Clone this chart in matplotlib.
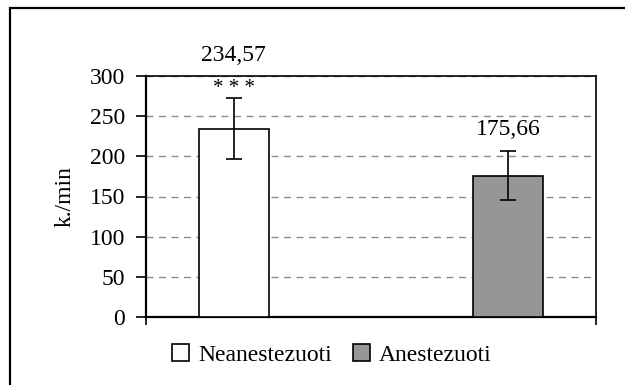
# Diagrama: k./min (neanestezuoti vs anestezuoti)
import matplotlib
matplotlib.use("Agg")
import matplotlib.pyplot as plt
from matplotlib.patches import Rectangle

# Duomenys
grupes = ["Neanestezuoti", "Anestezuoti"]
vidurkiai = [234.57, 175.66]
nuokrypiai = [38.5, 30.5]
etiketes = ["234,57", "175,66"]
spalvos = ["white", "#969696"]
y_ticks = [0, 50, 100, 150, 200, 250, 300]

plt.rcParams["font.family"] = ["Liberation Serif", "DejaVu Serif"]

fig = plt.figure(figsize=(6.25, 3.85), dpi=100)
W, H = 625, 385
ax = fig.add_axes([146 / W, 1 - 317 / H, 450 / W, 241 / H])

# Išorinis rėmelis (tęsiasi už paveikslo ribų)
fig.patches.append(Rectangle((10 / W, -0.1), 1.2, 1 - 8 / H + 0.1,
                             transform=fig.transFigure, fill=False,
                             edgecolor="black", linewidth=1.6, zorder=0))

x_pos = [0.195, 0.805]
bars = []
for i in range(len(grupes)):
    b = ax.bar(x_pos[i], vidurkiai[i], width=0.156, color=spalvos[i],
               edgecolor="black", linewidth=1.2, label=grupes[i], zorder=3)
    bars.append(b)
    ax.errorbar(x_pos[i], vidurkiai[i], yerr=nuokrypiai[i], fmt="none",
                ecolor="black", elinewidth=1.2, capsize=6, capthick=1.2, zorder=4)

# Reikšmių etiketės
ax.text(x_pos[0], 326, etiketes[0], ha="center", va="center", fontsize=17,
        clip_on=False)
ax.text(x_pos[0], 284, "* * *", ha="center", va="center", fontsize=15)
ax.text(x_pos[1], 233, etiketes[1], ha="center", va="center", fontsize=17)

ax.set_xlim(0, 1)
ax.set_ylim(0, 300)
ax.set_yticks(y_ticks)
ax.set_xticks([0, 1])
ax.set_xticklabels([])
ax.tick_params(axis="y", direction="out", length=7, width=1.2, labelsize=17, pad=8)
ax.tick_params(axis="x", direction="out", length=6, width=1.2)
ax.yaxis.grid(True, color="#8c8c8c", linestyle=(0, (5, 4)), linewidth=1.0, zorder=0)
ax.set_axisbelow(True)

for s in ["left", "bottom"]:
    ax.spines[s].set_linewidth(1.6)
for s in ["top", "right"]:
    ax.spines[s].set_linewidth(1.2)

ax.set_ylabel("k./min", fontsize=17, labelpad=10)

fig.legend(handles=[b[0] for b in bars], labels=grupes, loc="center",
           bbox_to_anchor=(332 / W, 1 - 355 / H), ncol=2, frameon=False,
           fontsize=17, handlelength=0.7, handleheight=0.7,
           handletextpad=0.4, columnspacing=0.9)

fig.savefig("out.png", dpi=100)
